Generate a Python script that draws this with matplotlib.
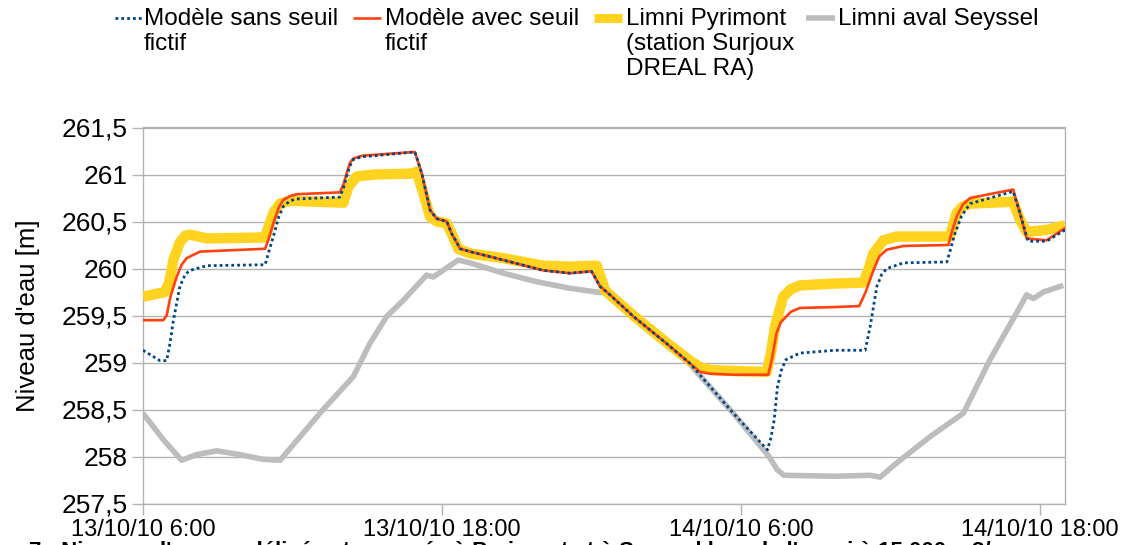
import matplotlib
matplotlib.use("Agg")
import matplotlib.pyplot as plt
from matplotlib.lines import Line2D

plt.rcParams['font.family'] = ['Liberation Sans', 'DejaVu Sans']

# hours after 13/10/10 6:00
tick_hours = [0, 12, 24, 36]
tick_labels = ["13/10/10 6:00", "13/10/10 18:00", "14/10/10 6:00", "14/10/10 18:00"]
y_ticks = [257.5, 258, 258.5, 259, 259.5, 260, 260.5, 261, 261.5]

# Limni Pyrimont (station Surjoux DREAL RA)
pyr_t = [0.0, 0.88, 1.05, 1.22, 1.48, 1.70, 1.89, 2.56, 4.90, 5.05, 5.25, 5.50, 5.90,
         8.04, 8.24, 8.58, 9.31, 10.85, 10.98, 11.25, 11.52, 11.79, 12.19, 12.39, 12.65,
         13.12, 14.46, 16.06, 17.13, 18.21, 18.54, 18.74, 19.68, 21.02, 21.95, 22.35,
         22.8, 23.69, 25.03, 25.20, 25.36, 25.69, 26.0, 26.36, 27.77, 28.90, 29.10, 29.31,
         29.71, 30.24, 32.38, 32.65, 32.9, 33.19, 34.92, 35.19, 35.46, 36.26, 37.0]
pyr_h = [259.70, 259.75, 259.85, 260.09, 260.28, 260.35, 260.36, 260.32, 260.33, 260.45,
         260.60, 260.69, 260.72, 260.70, 260.87, 260.98, 261.00, 261.01, 261.03, 260.80,
         260.55, 260.50, 260.48, 260.37, 260.21, 260.16, 260.11, 260.03, 260.02, 260.03,
         259.77, 259.72, 259.50, 259.21, 259.02, 258.95, 258.92, 258.91, 258.90, 259.10,
         259.38, 259.70, 259.78, 259.82, 259.84, 259.85, 259.98, 260.16, 260.30, 260.34,
         260.34, 260.59, 260.66, 260.69, 260.71, 260.52, 260.39, 260.41, 260.46]

# Modele avec seuil fictif
avec_t = [0.0, 0.81, 0.95, 1.10, 1.35, 1.55, 1.75, 2.29, 4.90, 5.05, 5.23, 5.45, 5.63,
          5.90, 6.17, 7.90, 8.05, 8.17, 8.30, 8.44, 8.80, 9.31, 10.91, 11.19, 11.52,
          11.79, 12.19, 12.39, 12.73, 13.12, 14.46, 16.06, 17.13, 18.0, 18.34, 18.74,
          19.68, 21.02, 21.95, 22.35, 22.8, 23.69, 25.09, 25.25, 25.42, 25.60, 25.82,
          26.0, 26.36, 27.77, 28.74, 29.0, 29.31, 29.55, 29.85, 30.52, 32.32, 32.45,
          32.65, 32.9, 33.19, 34.92, 35.19, 35.46, 36.26, 37.0]
avec_h = [259.45, 259.45, 259.50, 259.70, 259.91, 260.04, 260.11, 260.18, 260.21, 260.32,
          260.48, 260.65, 260.73, 260.77, 260.79, 260.81, 260.90, 261.01, 261.12, 261.17,
          261.20, 261.21, 261.24, 261.01, 260.62, 260.53, 260.50, 260.37, 260.21, 260.18,
          260.09, 259.98, 259.95, 259.97, 259.81, 259.72, 259.49, 259.20, 258.99, 258.90,
          258.88, 258.87, 258.87, 259.05, 259.31, 259.43, 259.49, 259.54, 259.58, 259.59,
          259.60, 259.75, 259.98, 260.13, 260.20, 260.24, 260.25, 260.38, 260.55, 260.68,
          260.75, 260.84, 260.59, 260.32, 260.30, 260.43]

# Modele sans seuil fictif
sans_t = [0.0, 0.68, 0.95, 1.08, 1.22, 1.48, 1.70, 1.89, 2.56, 4.90, 5.05, 5.23, 5.45,
          5.63, 5.90, 6.17, 7.90, 8.05, 8.17, 8.30, 8.44, 8.80, 9.31, 10.91, 11.19, 11.52,
          11.79, 12.19, 12.39, 12.73, 13.12, 14.46, 16.06, 17.13, 18.0, 18.34, 18.74,
          19.68, 21.02, 21.95, 23.69, 25.06, 25.20, 25.33, 25.46, 25.62, 25.80, 26.36,
          27.77, 28.98, 29.18, 29.45, 29.65, 29.85, 30.52, 32.26, 32.40, 32.58, 32.85,
          33.19, 34.92, 35.19, 35.52, 36.26, 37.0]
sans_h = [259.13, 259.02, 259.02, 259.20, 259.45, 259.81, 259.94, 259.98, 260.03, 260.04,
          260.18, 260.34, 260.55, 260.66, 260.72, 260.74, 260.76, 260.86, 260.98, 261.09,
          261.16, 261.19, 261.20, 261.24, 261.01, 260.62, 260.53, 260.50, 260.37, 260.21,
          260.18, 260.09, 259.98, 259.95, 259.97, 259.81, 259.72, 259.49, 259.20, 258.99,
          258.46, 258.07, 258.20, 258.39, 258.74, 258.92, 259.03, 259.10, 259.13, 259.13,
          259.38, 259.81, 259.94, 260.00, 260.06, 260.07, 260.20, 260.37, 260.56, 260.69,
          260.82, 260.59, 260.29, 260.29, 260.41]

# Limni aval Seyssel
sey_t = [0.0, 0.81, 1.55, 2.15, 2.96, 3.89, 4.82, 5.50, 6.30, 7.23, 8.44, 9.10, 9.78,
         10.44, 11.38, 11.65, 12.65, 13.12, 14.46, 15.79, 17.13, 18.21, 18.54, 19.68,
         21.02, 21.95, 23.69, 25.12, 25.45, 25.72, 27.77, 29.18, 29.58, 30.24, 31.58,
         32.92, 33.99, 35.19, 35.46, 35.73, 36.13, 36.93]
sey_h = [258.46, 258.18, 257.96, 258.02, 258.06, 258.02, 257.97, 257.96, 258.21, 258.50,
         258.85, 259.20, 259.49, 259.66, 259.93, 259.91, 260.09, 260.06, 259.95, 259.86,
         259.79, 259.75, 259.74, 259.48, 259.19, 258.98, 258.46, 258.00, 257.86, 257.80,
         257.79, 257.80, 257.78, 257.93, 258.21, 258.46, 259.03, 259.59, 259.72, 259.68,
         259.75, 259.82]

styles = {
    'sans': dict(color='#004586', lw=2.0, linestyle=(0, (1, 1.1))),
    'avec': dict(color='#FF420E', lw=1.9, linestyle='-'),
    'pyr': dict(color='#FFD320', lw=7.5, linestyle='-'),
    'sey': dict(color='#BDBDBD', lw=4.0, linestyle='-'),
}
grid_col = '#B3B3B3'

fig = plt.figure(figsize=(11.27, 5.45), dpi=100)
ax = fig.add_axes([143 / 1127, 1 - 503.5 / 545, 922 / 1127, 376 / 545])

ax.plot(sey_t, sey_h, zorder=2, solid_capstyle='butt', solid_joinstyle='round', **styles['sey'])
ax.plot(pyr_t, pyr_h, zorder=3, solid_capstyle='butt', solid_joinstyle='round', **styles['pyr'])
ax.plot(avec_t, avec_h, zorder=4, **styles['avec'])
ax.plot(sans_t, sans_h, zorder=5, **styles['sans'])

ax.set_xlim(0, 37)
ax.set_ylim(257.5, 261.5)
ax.set_xticks(tick_hours)
ax.set_xticklabels(tick_labels, fontsize=17)
ax.set_yticks(y_ticks)
ax.set_yticklabels([f"{v:g}".replace('.', ',') for v in y_ticks], fontsize=19)
ax.yaxis.grid(True, color=grid_col, lw=1.0)
ax.set_axisbelow(True)
ax.tick_params(axis='y', length=8, width=1, color=grid_col, pad=3)
ax.tick_params(axis='x', length=8, width=1, color=grid_col, pad=3)
for s in ax.spines.values():
    s.set_color(grid_col)
    s.set_linewidth(1.0)

ax.set_ylabel("Niveau d'eau [m]", fontsize=18.5)
ax.yaxis.set_label_coords(-0.112, 0.5)

# legend on top, drawn by hand so the handles sit on the first text line
leg_items = [
    ('sans', "Modèle sans seuil\nfictif", 115, 142, 144),
    ('avec', "Modèle avec seuil\nfictif", 353, 381, 385),
    ('pyr', "Limni Pyrimont\n(station Surjoux\nDREAL RA)", 594, 622, 626),
    ('sey', "Limni aval Seyssel", 806, 835, 838),
]
row_y = 1 - 18 / 545
for key, label, x0, x1, xt in leg_items:
    st = dict(styles[key])
    if key == 'pyr':
        st['lw'] = 6.5
    fig.add_artist(Line2D([x0 / 1127, x1 / 1127], [row_y, row_y], transform=fig.transFigure,
                          solid_capstyle='butt', **st))
    fig.text(xt / 1127, 1 - 8 / 545, label, fontsize=17.5, ha='left', va='top',
             linespacing=1.17)

# caption, mostly cut off at the bottom of the image
fig.text(-0.04, 1 - 541 / 545, "Figure 7 : Niveaux d'eau modélisés et mesurés à Pyrimont et à Seyssel "
         "lors de l'essai à 15 000 m3/s", fontsize=16, fontweight='bold', ha='left', va='top')

fig.savefig("out.png", dpi=100)
